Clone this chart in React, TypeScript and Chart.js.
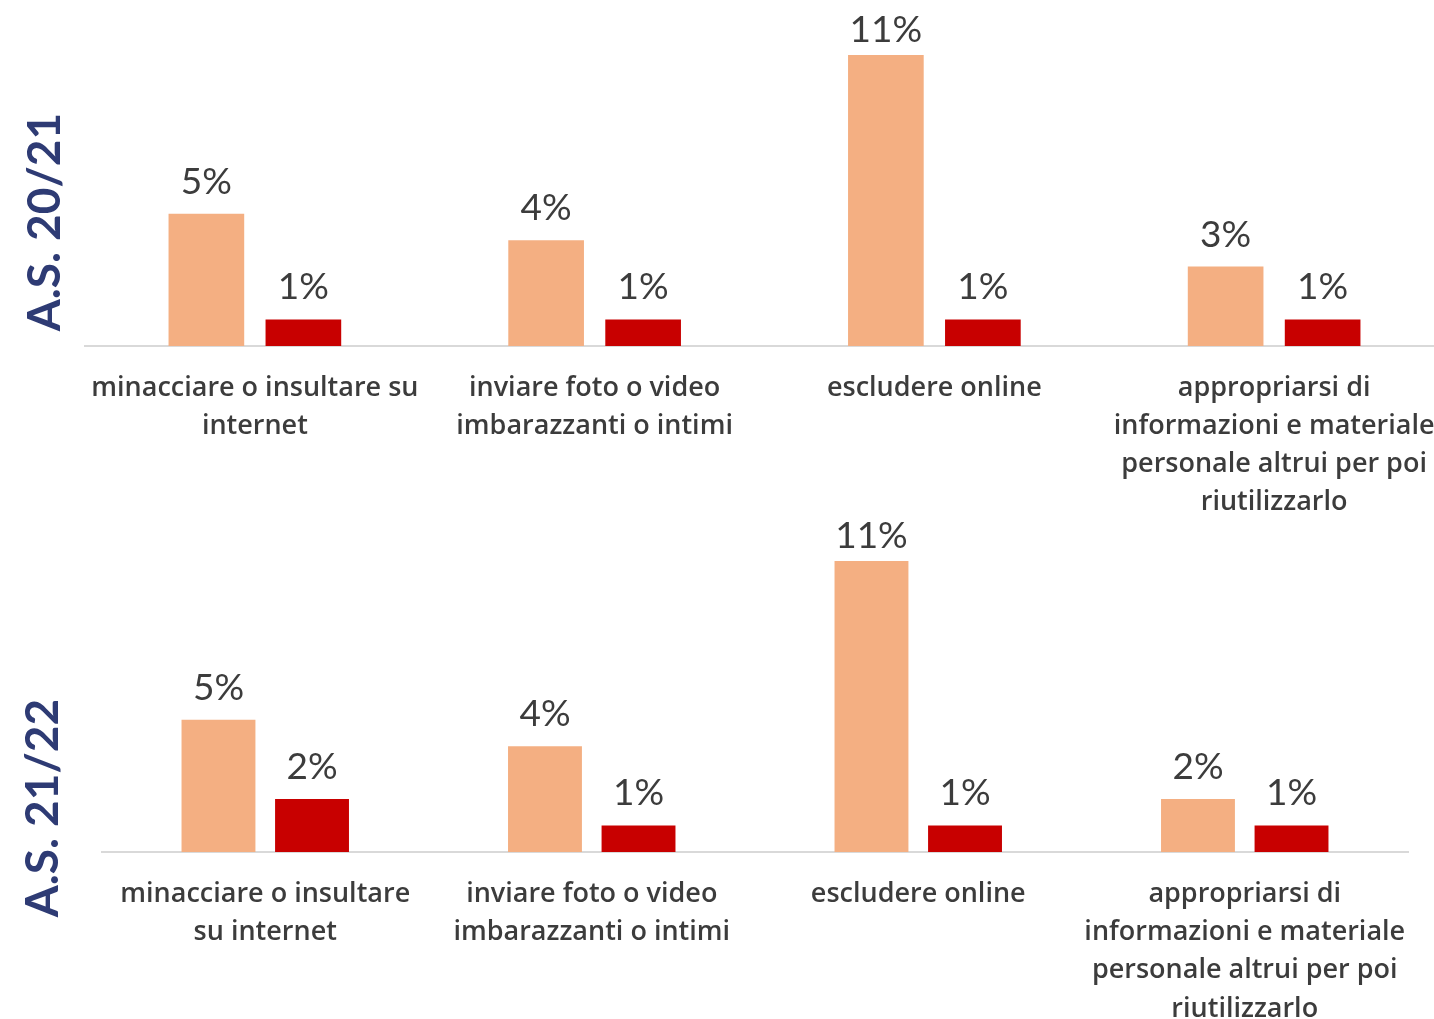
import React, { useEffect, useRef } from "react";
import { Chart, registerables } from "chart.js";

Chart.register(...registerables);

// ---- data ----
const categoriesTop: string[][] = [
  ["minacciare o insultare su", "internet"],
  ["inviare foto o video", "imbarazzanti o intimi"],
  ["escludere online"],
  ["appropriarsi di", "informazioni e materiale", "personale altrui per poi", "riutilizzarlo"],
];
const categoriesBottom: string[][] = [
  ["minacciare o insultare", "su internet"],
  ["inviare foto o video", "imbarazzanti o intimi"],
  ["escludere online"],
  ["appropriarsi di", "informazioni e materiale", "personale altrui per poi", "riutilizzarlo"],
];
const seriesLight2021 = [5, 4, 11, 3];
const seriesDark2021 = [1, 1, 1, 1];
const seriesLight2122 = [5, 4, 11, 2];
const seriesDark2122 = [2, 1, 1, 1];
const panelTitles = ["A.S. 20/21", "A.S. 21/22"];

const Y_MAX = 13;
const LIGHT = "#F4AF82";
const DARK = "#C80000";
const TEXT = "#3C3C3C";

const valueLabels = {
  id: "valueLabels",
  afterDatasetsDraw(chart: any) {
    const ctx = chart.ctx;
    const top = chart.chartArea.top;
    ctx.save();
    ctx.font = "37px Lato";
    ctx.fillStyle = TEXT;
    ctx.textAlign = "center";
    ctx.textBaseline = "middle";
    chart.data.datasets.forEach((ds: any, i: number) => {
      const meta = chart.getDatasetMeta(i);
      meta.data.forEach((bar: any, j: number) => {
        const y = Math.max(bar.y - 32, top + 28);
        ctx.fillText(ds.data[j] + "%", bar.x, y);
      });
    });
    ctx.restore();
  },
};

const sideTitle = {
  id: "sideTitle",
  afterDraw(chart: any, _args: any, opts: any) {
    if (!opts || !opts.text) return;
    const ctx = chart.ctx;
    ctx.save();
    ctx.translate(opts.x, opts.y);
    ctx.rotate(-Math.PI / 2);
    ctx.font = "bold 46px Lato";
    ctx.fillStyle = "#2E3B74";
    ctx.textAlign = "center";
    ctx.textBaseline = "middle";
    ctx.fillText(opts.text, 0, 0);
    ctx.restore();
  },
};

type PanelProps = {
  top: number;
  width: number;
  height: number;
  padLeft: number;
  padRight: number;
  padTop: number;
  axisHeight: number;
  lineHeight: number;
  labels: string[][];
  light: number[];
  dark: number[];
  title: string;
  titleX: number;
  titleY: number;
  catPct: number;
  barPct: number;
};

const TICK_SIZE = 27;

function Panel(p: PanelProps) {
  const ref = useRef<HTMLCanvasElement>(null);
  useEffect(() => {
    if (!ref.current) return;
    const chart = new Chart(ref.current, {
      type: "bar",
      data: {
        labels: p.labels as any,
        datasets: [
          {
            data: p.light,
            backgroundColor: LIGHT,
            categoryPercentage: p.catPct,
            barPercentage: p.barPct,
          },
          {
            data: p.dark,
            backgroundColor: DARK,
            categoryPercentage: p.catPct,
            barPercentage: p.barPct,
          },
        ],
      },
      options: {
        animation: false,
        responsive: false,
        maintainAspectRatio: false,
        layout: { padding: { left: p.padLeft, right: p.padRight, top: p.padTop, bottom: 0 } },
        plugins: {
          legend: { display: false },
          tooltip: { enabled: false },
          sideTitle: { text: p.title, x: p.titleX, y: p.titleY },
        } as any,
        scales: {
          x: {
            grid: { display: false, drawTicks: false },
            border: { display: true, color: "#D9D9D9", width: 2 },
            ticks: {
              font: { family: "'Open Sans'", size: TICK_SIZE, weight: "600", lineHeight: p.lineHeight },
              color: TEXT,
              padding: 23,
              maxRotation: 0,
              autoSkip: false,
            },
            afterFit: (s: any) => {
              s.height = p.axisHeight;
              s.paddingLeft = 0;
              s.paddingRight = 0;
            },
          },
          y: { display: false, min: 0, max: Y_MAX },
        },
      },
      plugins: [valueLabels, sideTitle],
    });
    return () => chart.destroy();
  }, []);
  return (
    <canvas
      ref={ref}
      width={p.width}
      height={p.height}
      style={{ position: "absolute", left: 0, top: p.top, width: p.width, height: p.height }}
    />
  );
}

export default function App() {
  return (
    <div style={{ position: "absolute", left: 0, top: 0, width: 1434, height: 1019, background: "#fff", overflow: "hidden" }}>
      <Panel
        top={0}
        width={1444}
        height={520}
        padLeft={85}
        padRight={0}
        padTop={2}
        axisHeight={174}
        lineHeight={38 / TICK_SIZE}
        labels={categoriesTop}
        light={seriesLight2021}
        dark={seriesDark2021}
        title={panelTitles[0]}
        titleX={45}
        titleY={222}
        catPct={0.571}
        barPct={0.78}
      />
      <Panel
        top={505}
        width={1434}
        height={514}
        padLeft={102}
        padRight={26}
        padTop={3}
        axisHeight={167}
        lineHeight={38.3 / TICK_SIZE}
        labels={categoriesBottom}
        light={seriesLight2122}
        dark={seriesDark2122}
        title={panelTitles[1]}
        titleX={43}
        titleY={303}
        catPct={0.573}
        barPct={0.79}
      />
    </div>
  );
}
